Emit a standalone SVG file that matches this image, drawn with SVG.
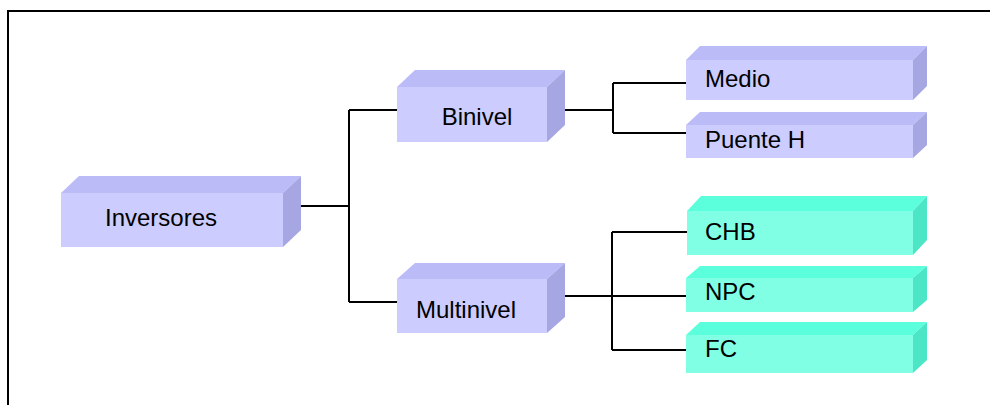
<svg xmlns="http://www.w3.org/2000/svg" width="990" height="405" viewBox="0 0 990 405">
<style>
.fl{fill:#CCCCFF}.tl{fill:#BBBBF8}.sl{fill:#A6A6E3}
.ft{fill:#80FFE4}.tt{fill:#5CFFDC}.st{fill:#4CE6C6}
.lbl{font-family:"Liberation Sans",Arial,sans-serif;font-size:24px;fill:#000}
.c{stroke:#000;stroke-width:2;fill:none}
</style>
<rect width="990" height="405" fill="#fff"/>
<path d="M8,405 V11 H990" fill="none" stroke="#000" stroke-width="2"/>
<g id="connectors">
<path class="c" d="M301,206 H349 M349,110 V302 M349,110 H397 M349,302 H397"/>
<path class="c" d="M565,110 H613 M613,83 V133 M613,83 H686 M613,133 H686"/>
<path class="c" d="M565,296 H686 M612,232 V350 M612,232 H687 M612,350 H686"/>
</g>
<g id="inversores">
<polygon class="tl" points="61,193 79,176 301,176 283,193"/>
<polygon class="sl" points="283,193 301,176 301,230 283,247"/>
<rect class="fl" x="61" y="193" width="222" height="54"/>
<text class="lbl" x="105" y="226">Inversores</text>
</g>
<g id="binivel">
<polygon class="tl" points="397,87 415,70 565,70 547,87"/>
<polygon class="sl" points="547,87 565,70 565,125 547,142"/>
<rect class="fl" x="397" y="87" width="150" height="55"/>
<text class="lbl" x="477" y="125" text-anchor="middle">Binivel</text>
</g>
<g id="multinivel">
<polygon class="tl" points="397,279 415,263 565,263 547,279"/>
<polygon class="sl" points="547,279 565,263 565,317 547,333"/>
<rect class="fl" x="397" y="279" width="150" height="54"/>
<text class="lbl" x="416" y="318">Multinivel</text>
</g>
<g id="medio">
<polygon class="tl" points="686,60 700,46 927,46 913,60"/>
<polygon class="sl" points="913,60 927,46 927,86 913,100"/>
<rect class="fl" x="686" y="60" width="227" height="40"/>
<text class="lbl" x="705" y="87">Medio</text>
</g>
<g id="puenteh">
<polygon class="tl" points="686,125 700,112 927,112 913,125"/>
<polygon class="sl" points="913,125 927,112 927,145 913,158"/>
<rect class="fl" x="686" y="125" width="227" height="33"/>
<text class="lbl" x="705" y="148">Puente H</text>
</g>
<g id="chb">
<polygon class="tt" points="687,211 701,196 927,196 913,211"/>
<polygon class="st" points="913,211 927,196 927,240 913,255"/>
<rect class="ft" x="687" y="211" width="226" height="44"/>
<text class="lbl" x="705" y="240">CHB</text>
</g>
<g id="npc">
<polygon class="tt" points="686,278 700,266 927,266 913,278"/>
<polygon class="st" points="913,278 927,266 927,300 913,312"/>
<rect class="ft" x="686" y="278" width="227" height="34"/>
<text class="lbl" x="705" y="300">NPC</text>
</g>
<g id="fc">
<polygon class="tt" points="686,335 700,322 927,322 913,335"/>
<polygon class="st" points="913,335 927,322 927,360 913,373"/>
<rect class="ft" x="686" y="335" width="227" height="38"/>
<text class="lbl" x="705" y="357">FC</text>
</g>
</svg>
